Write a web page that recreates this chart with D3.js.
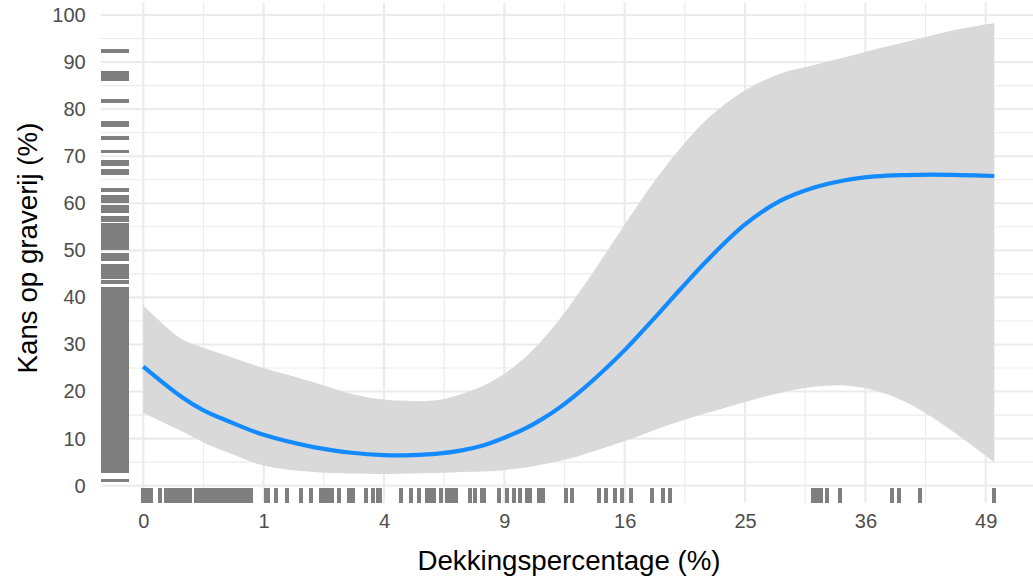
<!DOCTYPE html>
<html>
<head>
<meta charset="utf-8">
<script src="https://cdn.jsdelivr.net/npm/d3@7"></script>
<style>
  body { margin: 0; background: #ffffff; }
  svg { display: block; }
</style>
</head>
<body>
<svg id="chart" width="1033" height="581"></svg>
<script>
// Axis ticks
const xTicks = [0, 1, 4, 9, 16, 25, 36, 49];
const xMinorTicks = [0.25, 2.25, 6.25, 12.25, 20.25, 30.25, 42.25];
const yTicks = [0, 10, 20, 30, 40, 50, 60, 70, 80, 90, 100];
const yMinorTicks = [5, 15, 25, 35, 45, 55, 65, 75, 85, 95];

// Fitted probability with confidence band (%)
const dekking = [0, 0.1, 0.25, 0.5, 1, 2, 3, 4, 5, 6, 7, 8, 9, 10, 11, 12, 13, 14, 16, 18, 20, 22, 25, 28, 31, 34, 37, 40, 43, 46, 50];
const fit     = [25.3, 18.9, 16.0, 13.7, 10.8, 8.2, 7.0, 6.5, 6.5, 6.8, 7.5, 8.6, 10.2, 12.0, 14.2, 16.7, 19.5, 22.5, 28.8, 35.5, 42.0, 48.0, 55.5, 60.5, 63.3, 64.9, 65.7, 66.0, 66.1, 66.0, 65.8];
const lower   = [15.5, 11.6, 9.2, 7.0, 4.3, 2.9, 2.6, 2.5, 2.6, 2.7, 2.9, 3.0, 3.3, 3.8, 4.5, 5.3, 6.2, 7.3, 9.5, 11.8, 13.8, 15.5, 17.8, 19.7, 21.0, 21.3, 20.2, 17.9, 14.5, 10.5, 5.0];
const upper   = [38.3, 31.2, 29.3, 27.5, 25.0, 22.0, 19.5, 18.3, 18.0, 18.2, 19.5, 21.3, 23.8, 27.0, 31.0, 35.5, 40.5, 45.5, 55.5, 64.5, 72.0, 78.0, 84.0, 87.5, 89.3, 91.0, 92.7, 94.2, 95.7, 97.0, 98.3];

// Observed cover percentages (x rug)
const rugX = [0, 0.001, 0.004, 0.019, 0.036, 0.047, 0.061, 0.072, 0.091, 0.109, 0.129, 0.151,
  0.192, 0.218, 0.246, 0.276, 0.307, 0.340, 0.375, 0.411, 0.450, 0.490, 0.531, 0.574, 0.619, 0.666, 0.714, 0.764, 0.808,
  1.04, 1.08, 1.22, 1.43, 1.72, 1.95, 2.18, 2.27, 2.36, 2.46, 2.64, 2.91, 3.04, 3.42, 3.63, 3.80, 3.88,
  4.59, 4.96, 5.25, 5.56, 5.70, 5.84, 6.11, 6.37, 6.52, 6.67, 6.77, 7.38, 7.59, 7.91, 8.02,
  8.72, 9.13, 9.51, 9.82, 10.15, 10.31, 10.82, 11.03, 12.32, 12.69, 14.35, 14.77, 15.33, 15.85, 16.39,
  17.85, 18.65, 19.12, 31.01, 31.38, 31.71, 32.23, 33.48, 38.70, 39.43, 41.62, 50];

// Observed digging probabilities (y rug)
const rugY = [92.4, 87.6, 87.0, 86.3, 81.8, 77.1, 76.6, 73.8, 71.0, 68.8, 68.3, 66.9, 66.5, 62.9,
  61.3, 60.5, 59.2, 58.4, 57.0, 56.5, 55.5, 55.0, 54.4, 53.8, 53.2, 52.6, 52.0, 51.4, 50.8, 50.4,
  49.0, 48.2, 46.6, 46.1, 45.5, 44.9, 44.3, 43.2,
  41.8, 41.3, 40.7, 40.0, 39.5, 38.8, 38.3, 37.6, 37.1, 36.5, 35.8, 35.3, 34.6, 34.1, 33.5, 32.9,
  32.2, 31.7, 31.1, 30.4, 29.9, 29.3, 28.6, 28.1, 27.5, 26.8, 26.3, 25.7, 25.0, 24.5, 23.9, 23.2,
  22.7, 22.1, 21.4, 20.9, 20.3, 19.7, 19.1, 18.5, 17.9, 17.4, 16.7, 16.1, 15.6, 15.0, 14.3, 13.8,
  13.2, 12.5, 12.0, 11.4, 10.8, 10.2, 9.6, 9.0, 8.5, 7.8, 7.3, 6.7, 6.1, 5.5, 5.0, 4.3, 3.8, 3.3, 3.0,
  1.1];

const curve = dekking.map((d, i) => ({ x: d, fit: fit[i], lo: lower[i], hi: upper[i] }));

const svg = d3.select("#chart");
const panel = { left: 100.7, right: 1037, top: 2.7, bottom: 502.7 };
const panelW = panel.right - panel.left;
const panelH = panel.bottom - panel.top;

// Square-root x axis, linear y axis
const x = d3.scalePow().exponent(0.5).domain([0, 50]).range([143.3, 994.3]);
const y = d3.scaleLinear().domain([0, 100]).range([485.7, 15]);

const FONT = "'Liberation Sans', Arial, sans-serif";
const gridColor = "#ebebeb";

// Grid
const grid = svg.append("g");
grid.selectAll(".hminor").data(yMinorTicks).join("line")
  .attr("x1", panel.left).attr("x2", panel.right)
  .attr("y1", d => y(d)).attr("y2", d => y(d))
  .attr("stroke", gridColor).attr("stroke-width", 1.1);
grid.selectAll(".vminor").data(xMinorTicks).join("line")
  .attr("y1", panel.top).attr("y2", panel.bottom)
  .attr("x1", d => x(d)).attr("x2", d => x(d))
  .attr("stroke", gridColor).attr("stroke-width", 1.1);
grid.selectAll(".hmajor").data(yTicks).join("line")
  .attr("x1", panel.left).attr("x2", panel.right)
  .attr("y1", d => y(d)).attr("y2", d => y(d))
  .attr("stroke", gridColor).attr("stroke-width", 2.1);
grid.selectAll(".vmajor").data(xTicks).join("line")
  .attr("y1", panel.top).attr("y2", panel.bottom)
  .attr("x1", d => x(d)).attr("x2", d => x(d))
  .attr("stroke", gridColor).attr("stroke-width", 2.1);

// Confidence band
svg.append("path").datum(curve)
  .attr("fill", "#d9d9d9")
  .attr("d", d3.area().x(d => x(d.x)).y0(d => y(d.lo)).y1(d => y(d.hi)).curve(d3.curveCatmullRom));

// Fitted line
svg.append("path").datum(curve)
  .attr("fill", "none").attr("stroke", "#138bff").attr("stroke-width", 4.2)
  .attr("stroke-linejoin", "round").attr("stroke-linecap", "butt")
  .attr("d", d3.line().x(d => x(d.x)).y(d => y(d.fit)).curve(d3.curveCatmullRom));

// Rugs
const rugColor = "#7f7f7f";
const rugLenX = 0.03 * panelH, rugLenY = 0.03 * panelW;
svg.append("g").attr("shape-rendering", "crispEdges")
  .selectAll("rect").data(rugX).join("rect")
  .attr("x", d => x(d) - 2).attr("width", 4)
  .attr("y", panel.bottom - rugLenX).attr("height", rugLenX)
  .attr("fill", rugColor);
svg.append("g").attr("shape-rendering", "crispEdges")
  .selectAll("rect").data(rugY).join("rect")
  .attr("x", panel.left).attr("width", rugLenY)
  .attr("y", d => y(d) - 1.9).attr("height", 3.8)
  .attr("fill", rugColor);

// Axes
const xAxis = svg.append("g").attr("transform", `translate(0,${panel.bottom})`)
  .call(d3.axisBottom(x).tickValues(xTicks).tickFormat(d3.format("d")).tickSize(0).tickPadding(11));
xAxis.select(".domain").remove();
xAxis.selectAll("text").attr("font-family", FONT).attr("font-size", 20).attr("fill", "#4d4d4d");

const yAxis = svg.append("g").attr("transform", `translate(${panel.left},0)`)
  .call(d3.axisLeft(y).tickValues(yTicks).tickFormat(d3.format("d")).tickSize(0).tickPadding(15));
yAxis.select(".domain").remove();
yAxis.selectAll("text").attr("font-family", FONT).attr("font-size", 20).attr("fill", "#4d4d4d");

// Axis titles
svg.append("text")
  .attr("x", 569).attr("y", 570)
  .attr("text-anchor", "middle")
  .attr("font-family", FONT).attr("font-size", 27.7).attr("fill", "#000")
  .text("Dekkingspercentage (%)");
svg.append("text")
  .attr("transform", "translate(37,248) rotate(-90)")
  .attr("text-anchor", "middle")
  .attr("font-family", FONT).attr("font-size", 27.7).attr("fill", "#000")
  .text("Kans op graverij (%)");
</script>
</body>
</html>
